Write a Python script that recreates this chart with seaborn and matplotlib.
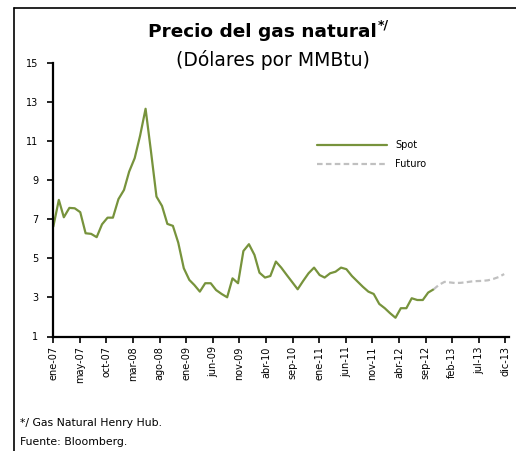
import datetime as dt
import matplotlib
matplotlib.use("Agg")
import matplotlib.pyplot as plt
from matplotlib.lines import Line2D
import seaborn as sns
import pandas as pd

# precio spot mensual (ene-07 a oct-12) y futuros (oct-12 a dic-13)
spot = [6.63, 8.00, 7.11, 7.59, 7.57, 7.37, 6.29, 6.26, 6.09, 6.75, 7.09, 7.09,
        8.04, 8.51, 9.45, 10.14, 11.28, 12.67, 10.50, 8.17, 7.69, 6.77, 6.67, 5.81,
        4.50, 3.90, 3.64, 3.30, 3.73, 3.73, 3.38, 3.18, 3.01, 3.98, 3.73, 5.38,
        5.73, 5.18, 4.27, 4.02, 4.10, 4.84, 4.53, 4.15, 3.78, 3.42, 3.85, 4.24,
        4.53, 4.15, 4.02, 4.24, 4.32, 4.53, 4.45, 4.10, 3.82, 3.55, 3.30, 3.18,
        2.67, 2.45, 2.20, 1.96, 2.45, 2.45, 2.96, 2.87, 2.87, 3.25, 3.42]
futuro = [3.42, 3.65, 3.80, 3.77, 3.74, 3.75, 3.78, 3.82, 3.84, 3.85, 3.88,
          3.95, 4.05, 4.20]
tick_labels = ["ene-07", "may-07", "oct-07", "mar-08", "ago-08", "ene-09",
               "jun-09", "nov-09", "abr-10", "sep-10", "ene-11", "jun-11",
               "nov-11", "abr-12", "sep-12", "feb-13", "jul-13", "dic-13"]
y_ticks = [1, 3, 5, 7, 9, 11, 13, 15]

fechas = pd.date_range("2007-01-01", periods=len(spot) + len(futuro) - 1, freq="MS")
df_spot = pd.DataFrame({"fecha": fechas[:len(spot)], "precio": spot})
df_fut = pd.DataFrame({"fecha": fechas[len(spot) - 1:], "precio": futuro})

sns.set_style("white")
plt.rcParams["font.family"] = ["DejaVu Sans"]
plt.rcParams["text.color"] = "black"
plt.rcParams["xtick.color"] = "black"
plt.rcParams["ytick.color"] = "black"

W, H = 516, 451
fig = plt.figure(figsize=(W / 100, H / 100), dpi=100)
ax = fig.add_axes([53.3 / W, 1 - 336.5 / H, (509 - 53.3) / W, (336.5 - 63.3) / H])

sns.lineplot(data=df_spot, x="fecha", y="precio", ax=ax, color="#77933C",
             linewidth=1.6, label="Spot")
sns.lineplot(data=df_fut, x="fecha", y="precio", ax=ax, color="#C0C0C0",
             linewidth=1.6, linestyle=(0, (2.5, 1.5)), label="Futuro")

inicio = dt.datetime(2007, 1, 1)
tick_pos = [inicio + dt.timedelta(days=149 * i) for i in range(len(tick_labels))]
ax.set_xlim(inicio, tick_pos[-1] + dt.timedelta(days=20))
ax.set_xticks(tick_pos)
ax.set_xticklabels(tick_labels, rotation=90, fontsize=7)
ax.set_ylim(1, 15)
ax.set_yticks(y_ticks)
ax.set_yticklabels([str(v) for v in y_ticks], fontsize=7)
ax.set_xlabel("")
ax.set_ylabel("")
ax.tick_params(axis="x", direction="out", length=4, width=1.2, pad=3, bottom=True)
ax.tick_params(axis="y", direction="out", length=4, width=1.2, pad=7, left=True)
for s in ["top", "right"]:
    ax.spines[s].set_visible(False)
for s in ["left", "bottom"]:
    ax.spines[s].set_color("black")
    ax.spines[s].set_linewidth(1.6)

leg = ax.legend(loc="upper left", bbox_to_anchor=(0.56, 0.75), frameon=False,
                fontsize=7, handlelength=7.2, handletextpad=0.8, labelspacing=0.9)

# marco (solo izquierda y arriba visibles)
fig.add_artist(Line2D([13.5 / W, 13.5 / W], [0, 1 - 7.5 / H], transform=fig.transFigure,
                      color="black", linewidth=1.2))
fig.add_artist(Line2D([13.5 / W, 1], [1 - 7.5 / H, 1 - 7.5 / H], transform=fig.transFigure,
                      color="black", linewidth=1.2))

# titulos
t = fig.text(148 / W, 1 - 37 / H, "Precio del gas natural", fontsize=13.3,
             fontweight="bold", ha="left", va="baseline")
fig.canvas.draw()
bb = t.get_window_extent()
fig.text(bb.x1 / W + 1.5 / W, 1 - 28 / H, "*/", fontsize=9, fontweight="bold",
         ha="left", va="baseline")
fig.text(273 / W, 1 - 66 / H, "(Dólares por MMBtu)", fontsize=13.5,
         ha="center", va="baseline")

fig.text(20 / W, 1 - 426 / H, "*/ Gas Natural Henry Hub.", fontsize=7.8,
         ha="left", va="baseline")
fig.text(20 / W, 1 - 445 / H, "Fuente: Bloomberg.", fontsize=7.8,
         ha="left", va="baseline")

fig.savefig("out.png", dpi=100)
